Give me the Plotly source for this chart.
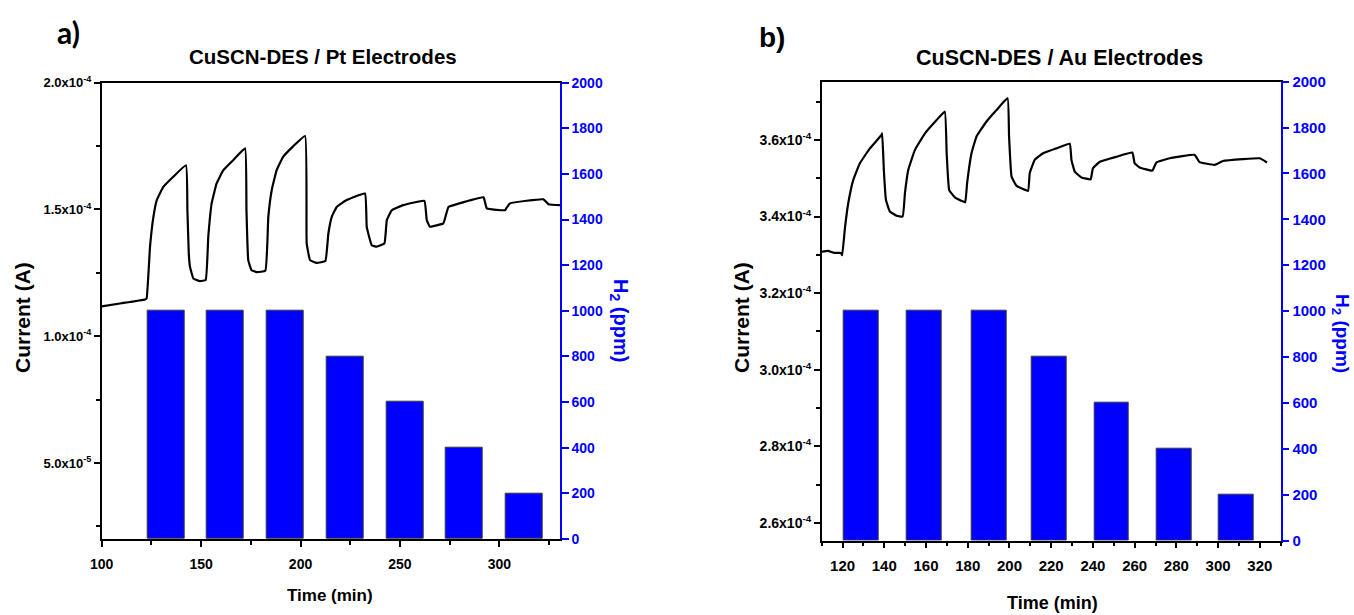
import plotly.graph_objects as go

# ---------------- data ----------------
# Panel a) Pt electrodes
pt_time = [100.0, 110.0, 121.8, 122.6, 124.3, 126.0, 127.7, 131.0, 136.0, 142.4,
           143.1, 143.8, 144.4, 146.1, 149.4, 152.3,
           153.6, 155.3, 157.8, 161.2, 166.2, 172.1,
           172.8, 173.7, 175.4, 178.0, 182.3,
           183.8, 185.5, 188.0, 191.3, 196.4, 202.3,
           203.1, 204.8, 208.1, 212.5,
           214.0, 215.7, 218.2, 223.2, 232.4,
           233.3, 235.8, 238.3, 242.2,
           243.4, 245.9, 251.7, 262.3,
           263.5, 265.1, 271.8, 272.5,
           274.4, 278.6, 292.0,
           293.7, 302.9, 303.5,
           305.4, 322.1, 324.7, 330.5]
pt_current = [1.118, 1.130, 1.145, 1.150, 1.353, 1.471, 1.537, 1.589, 1.629, 1.674,
              1.497, 1.326, 1.274, 1.228, 1.217, 1.222,
              1.392, 1.524, 1.603, 1.655, 1.695, 1.741,
              1.500, 1.300, 1.260, 1.253, 1.258,
              1.471, 1.576, 1.655, 1.708, 1.750, 1.790,
              1.366, 1.300, 1.289, 1.297,
              1.405, 1.471, 1.510, 1.537, 1.563,
              1.431, 1.359, 1.353, 1.366,
              1.458, 1.497, 1.517, 1.534,
              1.458, 1.432, 1.445, 1.460,
              1.510, 1.521, 1.548,
              1.504, 1.497, 1.505,
              1.524, 1.540, 1.521, 1.517]   # units of 1e-4 A
pt_bar_time = [132.4, 162.3, 192.3, 222.6, 252.5, 282.5, 312.5]
pt_h2 = [1000, 1000, 1000, 800, 600, 400, 200]

# Panel b) Au electrodes
au_time = [110.0, 113.0, 116.0, 119.2, 119.8, 121.2, 122.7, 125.1, 128.3, 133.1, 138.7, 139.0,
           139.8, 140.8, 142.7, 145.9, 148.8,
           149.9, 151.5, 154.7, 159.5, 165.1, 169.0,
           169.9, 171.1, 173.8, 177.8, 178.8,
           179.7, 181.8, 184.2, 189.0, 193.8, 199.1,
           199.8, 201.0, 203.4, 208.9,
           209.7, 212.1, 216.1, 222.5, 228.9,
           229.7, 231.3, 234.5, 238.9,
           240.0, 243.3, 251.2, 258.9,
           260.0, 262.4, 268.5,
           270.4, 276.8, 288.7,
           291.1, 298.3,
           302.3, 311.9, 319.9, 323.4]
au_current = [3.308, 3.310, 3.305, 3.305, 3.299, 3.373, 3.434, 3.495, 3.539, 3.578, 3.613, 3.617,
              3.520, 3.443, 3.413, 3.402, 3.400,
              3.461, 3.522, 3.574, 3.617, 3.652, 3.674,
              3.565, 3.469, 3.450, 3.439, 3.437,
              3.487, 3.565, 3.609, 3.648, 3.678, 3.709,
              3.609, 3.504, 3.480, 3.467,
              3.513, 3.548, 3.565, 3.578, 3.590,
              3.548, 3.517, 3.502, 3.497,
              3.526, 3.543, 3.556, 3.567,
              3.539, 3.528, 3.520,
              3.541, 3.552, 3.561,
              3.542, 3.535,
              3.545, 3.550, 3.552, 3.541]   # units of 1e-4 A
au_bar_time = [129.0, 159.2, 190.2, 219.0, 249.0, 279.1, 308.7]
au_h2 = [1000, 1000, 1000, 800, 600, 400, 200]

# tick labels
pt_x_ticks = [100, 150, 200, 250, 300]
pt_y_tickvals = [0.5, 1.0, 1.5, 2.0]
pt_y_ticktext = ["5.0x10<sup>-5</sup>", "1.0x10<sup>-4</sup>", "1.5x10<sup>-4</sup>", "2.0x10<sup>-4</sup>"]
au_x_ticks = [120, 140, 160, 180, 200, 220, 240, 260, 280, 300, 320]
au_y_tickvals = [2.6, 2.8, 3.0, 3.2, 3.4, 3.6]
au_y_ticktext = ["2.6x10<sup>-4</sup>", "2.8x10<sup>-4</sup>", "3.0x10<sup>-4</sup>",
                 "3.2x10<sup>-4</sup>", "3.4x10<sup>-4</sup>", "3.6x10<sup>-4</sup>"]
h2_ticks = [0, 200, 400, 600, 800, 1000, 1200, 1400, 1600, 1800, 2000]

# ---------------- layout helpers ----------------
W, H = 1354, 615
def fx(p): return p / W
def fy(p): return 1 - p / H

FONT = "Liberation Sans, Arial, sans-serif"
BLUE = "#0000FF"

fig = go.Figure()

line_style = dict(color="black", width=2.2, shape="spline", smoothing=0.3)

fig.add_trace(go.Bar(x=pt_bar_time, y=pt_h2, width=18.6, xaxis="x", yaxis="y",
                     marker=dict(color=BLUE, line=dict(color="#3a3a3a", width=1)),
                     showlegend=False))
fig.add_trace(go.Scatter(x=pt_time, y=pt_current, mode="lines", xaxis="x", yaxis="y2",
                         line=line_style, showlegend=False))
fig.add_trace(go.Bar(x=au_bar_time, y=au_h2, width=16.7, xaxis="x2", yaxis="y3",
                     marker=dict(color=BLUE, line=dict(color="#3a3a3a", width=1)),
                     showlegend=False))
fig.add_trace(go.Scatter(x=au_time, y=au_current, mode="lines", xaxis="x2", yaxis="y4",
                         line=line_style, showlegend=False))

def tfont(size, color="black"):
    return dict(family=FONT, size=size, color=color, weight="bold")

def minor(dtick, tick0):
    return dict(ticks="outside", ticklen=4, tickwidth=1.5, tickcolor="black", tick0=tick0, dtick=dtick)

common_x = dict(showgrid=False, zeroline=False, showline=True, linecolor="black", linewidth=1.5,
                mirror=True, ticks="outside", ticklen=6, tickwidth=1.5, tickcolor="black",
                automargin=False, tickmode="array", ticklabelstandoff=5)
common_cur = dict(showgrid=False, zeroline=False, showline=True, linecolor="black", linewidth=1.5,
                  ticks="outside", ticklen=6, tickwidth=1.5, tickcolor="black",
                  automargin=False, side="left", tickmode="array")
common_h2 = dict(showgrid=False, zeroline=False, showline=True, linecolor=BLUE, linewidth=1.5,
                 ticks="outside", ticklen=7, tickwidth=1.5, tickcolor=BLUE,
                 automargin=False, side="right", range=[0, 2000],
                 tickmode="array", tickvals=h2_ticks)

fig.update_layout(
    width=W, height=H, autosize=False,
    margin=dict(l=0, r=0, t=0, b=0, pad=0),
    paper_bgcolor="white", plot_bgcolor="white",
    bargap=0,
    xaxis=dict(common_x, domain=[fx(101.7), fx(560.0)], range=[100, 330.5], anchor="y",
               tickvals=pt_x_ticks, tickfont=tfont(14), minor=minor(25, 100)),
    yaxis=dict(common_h2, domain=[fy(539.0), fy(82.7)], anchor="x", tickfont=tfont(14, BLUE)),
    yaxis2=dict(common_cur, overlaying="y", anchor="x", range=[0.2, 2.0],
                tickvals=pt_y_tickvals, ticktext=pt_y_ticktext, tickfont=tfont(13),
                minor=minor(0.25, 0)),
    xaxis2=dict(common_x, domain=[fx(821.7), fx(1280.7)], range=[110, 330], anchor="y3",
                tickvals=au_x_ticks, tickfont=tfont(15), minor=minor(10, 110)),
    yaxis3=dict(common_h2, domain=[fy(540.5), fy(81.7)], anchor="x2", tickfont=tfont(15, BLUE)),
    yaxis4=dict(common_cur, overlaying="y3", anchor="x2", range=[2.554, 3.752],
                tickvals=au_y_tickvals, ticktext=au_y_ticktext, tickfont=tfont(14),
                minor=minor(0.1, 2.6)),
)

def ann(text, x, y, size, color="black", angle=0, family=FONT):
    fig.add_annotation(text=text, x=fx(x), y=fy(y), xref="paper", yref="paper",
                       showarrow=False, textangle=angle, xanchor="center", yanchor="middle",
                       font=dict(family=family, size=size, color=color, weight="bold"))

ann("a)", 68, 32, 30, family="Lato, Open Sans, sans-serif")
ann("b)", 772, 38, 28)
ann("CuSCN-DES / Pt Electrodes", 323, 57, 20.5)
ann("CuSCN-DES / Au Electrodes", 1059, 58, 21.5)
ann("Current (A)", 22, 318, 21, angle=-90)
ann("Current (A)", 741, 318, 21, angle=-90)
ann("H<sub>2</sub> (ppm)", 620, 320, 20, color=BLUE, angle=90)
ann("H<sub>2</sub> (ppm)", 1341, 333, 19, color=BLUE, angle=90)
ann("Time (min)", 330, 595, 17)
ann("Time (min)", 1052, 603, 18)

fig.write_html("out.html", config={"displayModeBar": False},
               post_script="document.body.style.margin='0';document.body.style.padding='0';"
                           "document.documentElement.style.overflow='hidden';")
